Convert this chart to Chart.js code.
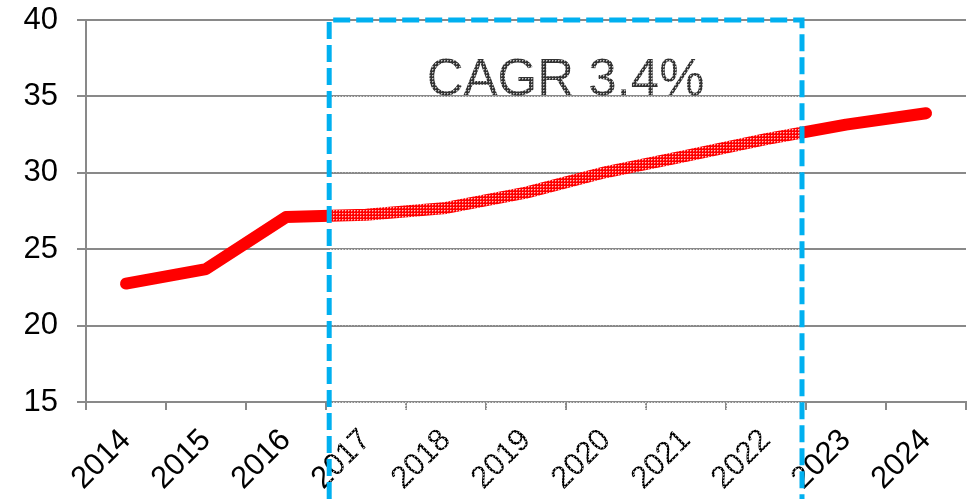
<!DOCTYPE html>
<html>
<head>
<meta charset="utf-8">
<script src="https://cdn.jsdelivr.net/npm/chart.js@4/dist/chart.umd.min.js"></script>
<style>
  html, body { margin: 0; padding: 0; background: #fff; }
  #wrap { width: 971px; height: 499px; }
</style>
</head>
<body>
<div id="wrap"><canvas id="chart" width="971" height="499"></canvas></div>
<script>
// ── data ──
const years  = ['2014', '2015', '2016', '2017', '2018', '2019', '2020', '2021', '2022', '2023', '2024'];
const values = [22.75, 23.7, 27.1, 27.25, 27.7, 28.7, 30.05, 31.1, 32.2, 33.15, 33.9];
const yMin = 15, yMax = 40, yStep = 5;

// highlighted period: from the 2016/2017 boundary to the 2022/2023 boundary (category index units)
const boxFrom = 2.54, boxTo = 8.45;
const cagrText = 'CAGR 3.4%';
const cagrAt = 35.1;            // text baseline, in y units

const GRID = '#898989';
const FONT = '"Liberation Sans", Arial, sans-serif';

// fine dotted screen laid over everything inside the box
function makeScreen(ctx) {
  const t = document.createElement('canvas');
  t.width = 3; t.height = 3;
  const c = t.getContext('2d');
  c.fillStyle = 'rgba(255,255,255,0.75)';
  c.fillRect(0, 0, 1, 1);
  c.fillStyle = 'rgba(255,255,255,0.35)';
  c.fillRect(1, 0, 1, 1);
  c.fillRect(0, 1, 1, 1);
  return ctx.createPattern(t, 'repeat');
}

const cagrBox = {
  id: 'cagrBox',
  afterDraw(chart) {
    const { ctx } = chart;
    const xs = chart.scales.x, ys = chart.scales.y;
    const l = xs.getPixelForValue(boxFrom), r = xs.getPixelForValue(boxTo);
    const t = ys.getPixelForValue(yMax), b = chart.height;

    ctx.save();
    ctx.font = '51px ' + FONT;
    ctx.fillStyle = '#333';
    ctx.textAlign = 'center';
    ctx.textBaseline = 'alphabetic';
    ctx.fillText(cagrText, (l + r) / 2, ys.getPixelForValue(cagrAt));

    ctx.beginPath();
    ctx.rect(l, t, r - l, b - t);
    ctx.clip();
    ctx.fillStyle = makeScreen(ctx);
    ctx.fillRect(l, t, r - l, b - t);
    ctx.restore();

    ctx.save();
    ctx.strokeStyle = '#00b0f0';
    ctx.lineWidth = 5;
    ctx.setLineDash([17, 6]);
    ctx.beginPath();
    ctx.moveTo(l, b);
    ctx.lineTo(l, t);
    ctx.lineTo(r, t);
    ctx.lineTo(r, b);
    ctx.stroke();
    ctx.restore();
  }
};

new Chart(document.getElementById('chart'), {
  type: 'line',
  data: {
    labels: years,
    datasets: [{
      data: values,
      borderColor: '#ff0000',
      borderWidth: 12,
      borderCapStyle: 'round',
      borderJoinStyle: 'round',
      pointRadius: 0,
      tension: 0,
      clip: false
    }]
  },
  options: {
    responsive: false,
    animation: false,
    layout: { padding: { top: 0, right: 5, left: 0, bottom: 0 } },
    plugins: { legend: { display: false }, tooltip: { enabled: false } },
    scales: {
      x: {
        offset: true,
        grid: { offset: true, drawOnChartArea: false, color: GRID, lineWidth: 2, tickLength: 8 },
        border: { color: GRID, width: 2 },
        ticks: {
          color: '#000', font: { size: 31, family: FONT },
          minRotation: 45, maxRotation: 45, autoSkip: false, padding: 12
        },
        afterFit(s) { s.height = 97; }
      },
      y: {
        min: yMin, max: yMax,
        grid: { color: GRID, lineWidth: 2, tickLength: 9 },
        border: { color: GRID, width: 2 },
        ticks: { stepSize: yStep, color: '#000', font: { size: 31, family: FONT }, padding: 19 },
        afterFit(s) { s.width = 86; s.paddingTop = 20; s.paddingBottom = 0; }
      }
    }
  },
  plugins: [cagrBox]
});
</script>
</body>
</html>
